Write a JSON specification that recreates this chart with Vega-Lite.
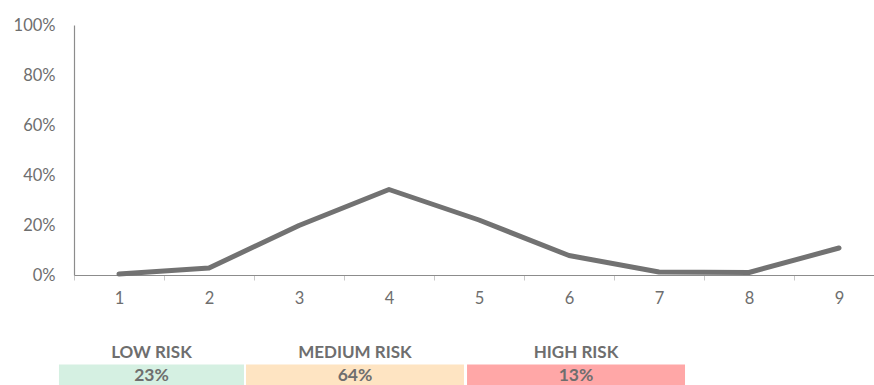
{
  "$schema": "https://vega.github.io/schema/vega-lite/v6.json",
  "padding": {"left": 13, "top": 17, "right": 0, "bottom": 0},
  "background": "white",
  "spacing": 35,
  "config": {
    "view": {"stroke": null},
    "font": "Lato",
    "axis": {"labelFont": "Lato", "labelColor": "#6e6e6e", "labelFontSize": 16.5, "domainColor": "#8c8c8c", "domainWidth": 1.2}
  },
  "datasets": {
    "dist": [
      {"bucket": "1", "share": 0.004},
      {"bucket": "2", "share": 0.028},
      {"bucket": "3", "share": 0.198},
      {"bucket": "4", "share": 0.342},
      {"bucket": "5", "share": 0.220},
      {"bucket": "6", "share": 0.078},
      {"bucket": "7", "share": 0.012},
      {"bucket": "8", "share": 0.010},
      {"bucket": "9", "share": 0.108}
    ],
    "risk": [
      {"group": "LOW RISK", "share": "23%", "start": -0.167, "end": 1.889, "mid": 0.861, "fill": "low"},
      {"group": "MEDIUM RISK", "share": "64%", "start": 1.911, "end": 4.333, "mid": 3.122, "fill": "medium"},
      {"group": "HIGH RISK", "share": "13%", "start": 4.367, "end": 6.789, "mid": 5.578, "fill": "high"}
    ]
  },
  "vconcat": [
    {
      "width": 810,
      "height": 250,
      "data": {"name": "dist"},
      "mark": {"type": "line", "color": "#727272", "strokeWidth": 5, "strokeCap": "round", "strokeJoin": "round"},
      "encoding": {
        "x": {
          "field": "bucket", "type": "ordinal", "bandPosition": 0.5,
          "scale": {"type": "band", "paddingInner": 0, "paddingOuter": 0},
          "axis": {"title": null, "labelAngle": 0, "tickBand": "extent", "tickSize": 5, "tickColor": "#c8c8c8", "labelPadding": 10, "grid": false}
        },
        "y": {
          "field": "share", "type": "quantitative",
          "scale": {"domain": [0, 1]},
          "axis": {"title": null, "format": ".0%", "values": [0, 0.2, 0.4, 0.6, 0.8, 1], "ticks": false, "labelPadding": 19, "grid": false}
        }
      }
    },
    {
      "width": 810,
      "height": 45,
      "data": {"name": "risk"},
      "layer": [
        {
          "mark": {"type": "rect", "clip": false},
          "encoding": {
            "x": {"field": "start", "type": "quantitative", "scale": {"domain": [0, 9]}, "axis": null},
            "x2": {"field": "end"},
            "y": {"datum": 0, "type": "quantitative", "scale": {"domain": [0, 2]}, "axis": null},
            "y2": {"datum": 1},
            "color": {"field": "fill", "type": "nominal", "scale": {"domain": ["low", "medium", "high"], "range": ["#d5f0e2", "#fee4c2", "#ffa7a7"]}, "legend": null}
          }
        },
        {
          "mark": {"type": "text", "font": "Lato", "fontWeight": "bold", "fontSize": 17.5, "color": "#6e6e6e"},
          "encoding": {
            "x": {"field": "mid", "type": "quantitative"},
            "y": {"datum": 0.5, "type": "quantitative"},
            "text": {"field": "share"}
          }
        },
        {
          "mark": {"type": "text", "font": "Lato", "fontWeight": "bold", "fontSize": 17, "color": "#6e6e6e"},
          "encoding": {
            "x": {"field": "mid", "type": "quantitative"},
            "y": {"datum": 1.5, "type": "quantitative"},
            "text": {"field": "group"}
          }
        }
      ]
    }
  ]
}
